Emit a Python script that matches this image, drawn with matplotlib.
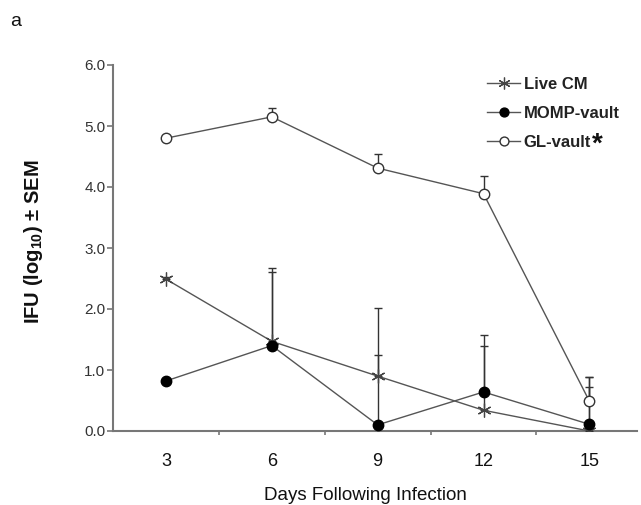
import matplotlib
matplotlib.use('Agg')
import matplotlib.pyplot as plt
from matplotlib.ticker import FixedLocator, FormatStrFormatter

plt.rcParams['font.family'] = ['Liberation Sans', 'DejaVu Sans']
plt.rcParams['mathtext.fontset'] = 'custom'
plt.rcParams['mathtext.rm'] = 'Liberation Sans'
plt.rcParams['mathtext.bf'] = 'Liberation Sans:bold'

# Datos
dias = [3, 6, 9, 12, 15]
live_cm = [2.49, 1.47, 0.90, 0.34, 0.00]
live_cm_sem = [0.04, 1.14, 0.35, 1.05, 0.88]
momp_vault = [0.82, 1.40, 0.10, 0.64, 0.11]
momp_vault_sem = [0.04, 1.27, 1.92, 0.93, 0.61]
gl_vault = [4.80, 5.15, 4.31, 3.89, 0.49]
gl_vault_sem = [0.04, 0.15, 0.23, 0.29, 0.40]

etiquetas_y = [0.0, 1.0, 2.0, 3.0, 4.0, 5.0, 6.0]

fig = plt.figure(figsize=(6.41, 5.05), dpi=100)
ax = fig.add_axes([113 / 641, 1 - 431 / 505, 524 / 641, 366 / 505])

gris_linea = '#555555'
gris_eje = '#777777'

series = [
    (live_cm, live_cm_sem, 'Live CM', dict(marker=(6, 2, 0), ms=10, mfc='none', mec='#444444', mew=0.9)),
    (momp_vault, momp_vault_sem, 'MOMP-vault', dict(marker='o', ms=7.5, mfc='black', mec='black', mew=1.0)),
    (gl_vault, gl_vault_sem, 'GL-vault', dict(marker='o', ms=7.5, mfc='white', mec='#333333', mew=1.0)),
]

for valores, sem, nombre, estilo in series:
    ax.errorbar(dias, valores, yerr=[[0] * len(sem), sem], fmt='none',
                ecolor='#333333', elinewidth=1.0, capsize=2.8, capthick=1.0,
                zorder=2)
    ax.plot(dias, valores, color=gris_linea, lw=1.0, label=nombre,
            zorder=3, **estilo)

ax.set_xlim(1.5, 16.35)
ax.set_ylim(0, 6.0)

for lado in ['top', 'right']:
    ax.spines[lado].set_visible(False)
for lado in ['left', 'bottom']:
    ax.spines[lado].set_color(gris_eje)
    ax.spines[lado].set_linewidth(1.5)
    ax.spines[lado].set_zorder(1)

ax.set_xticks(dias)
ax.xaxis.set_minor_locator(FixedLocator([4.5, 7.5, 10.5, 13.5]))
ax.tick_params(axis='x', which='major', length=0, pad=16, labelsize=13,
               labelcolor='#111111')
ax.tick_params(axis='x', which='minor', length=3, width=1.2, color=gris_eje,
               direction='out')

ax.set_yticks(etiquetas_y)
ax.yaxis.set_major_formatter(FormatStrFormatter('%.1f'))
ax.tick_params(axis='y', length=4, width=1.2, color=gris_eje, pad=1.5,
               labelsize=11, labelcolor='#333333')

ax.set_xlabel('Days Following Infection', fontsize=13.5, color='#111111')
ax.xaxis.set_label_coords(0.481, -0.152)
ax.set_ylabel('IFU (log$_{\\mathbf{10}}$) ± SEM', fontsize=14.5,
              fontweight='bold', color='#111111')
ax.yaxis.set_label_coords(-0.13, 0.516)

leg = ax.legend(loc='upper left', bbox_to_anchor=(487 / 641, 1 - 77 / 505),
                bbox_transform=fig.transFigure, frameon=False,
                prop={'weight': 'bold', 'size': 12}, handlelength=2.0,
                handletextpad=0.2, labelspacing=0.85, borderpad=0,
                borderaxespad=0, markerscale=0.85)
for texto in leg.get_texts():
    texto.set_color('#222222')

fig.text(592 / 641, 1 - 132 / 505, '*', fontsize=20, fontweight='bold',
         va='top', ha='left', color='#111111')
fig.text(10 / 641, 1 - 22 / 505, 'a', fontsize=14, va='center', ha='left',
         color='#111111')

fig.savefig('out.png', dpi=100)
